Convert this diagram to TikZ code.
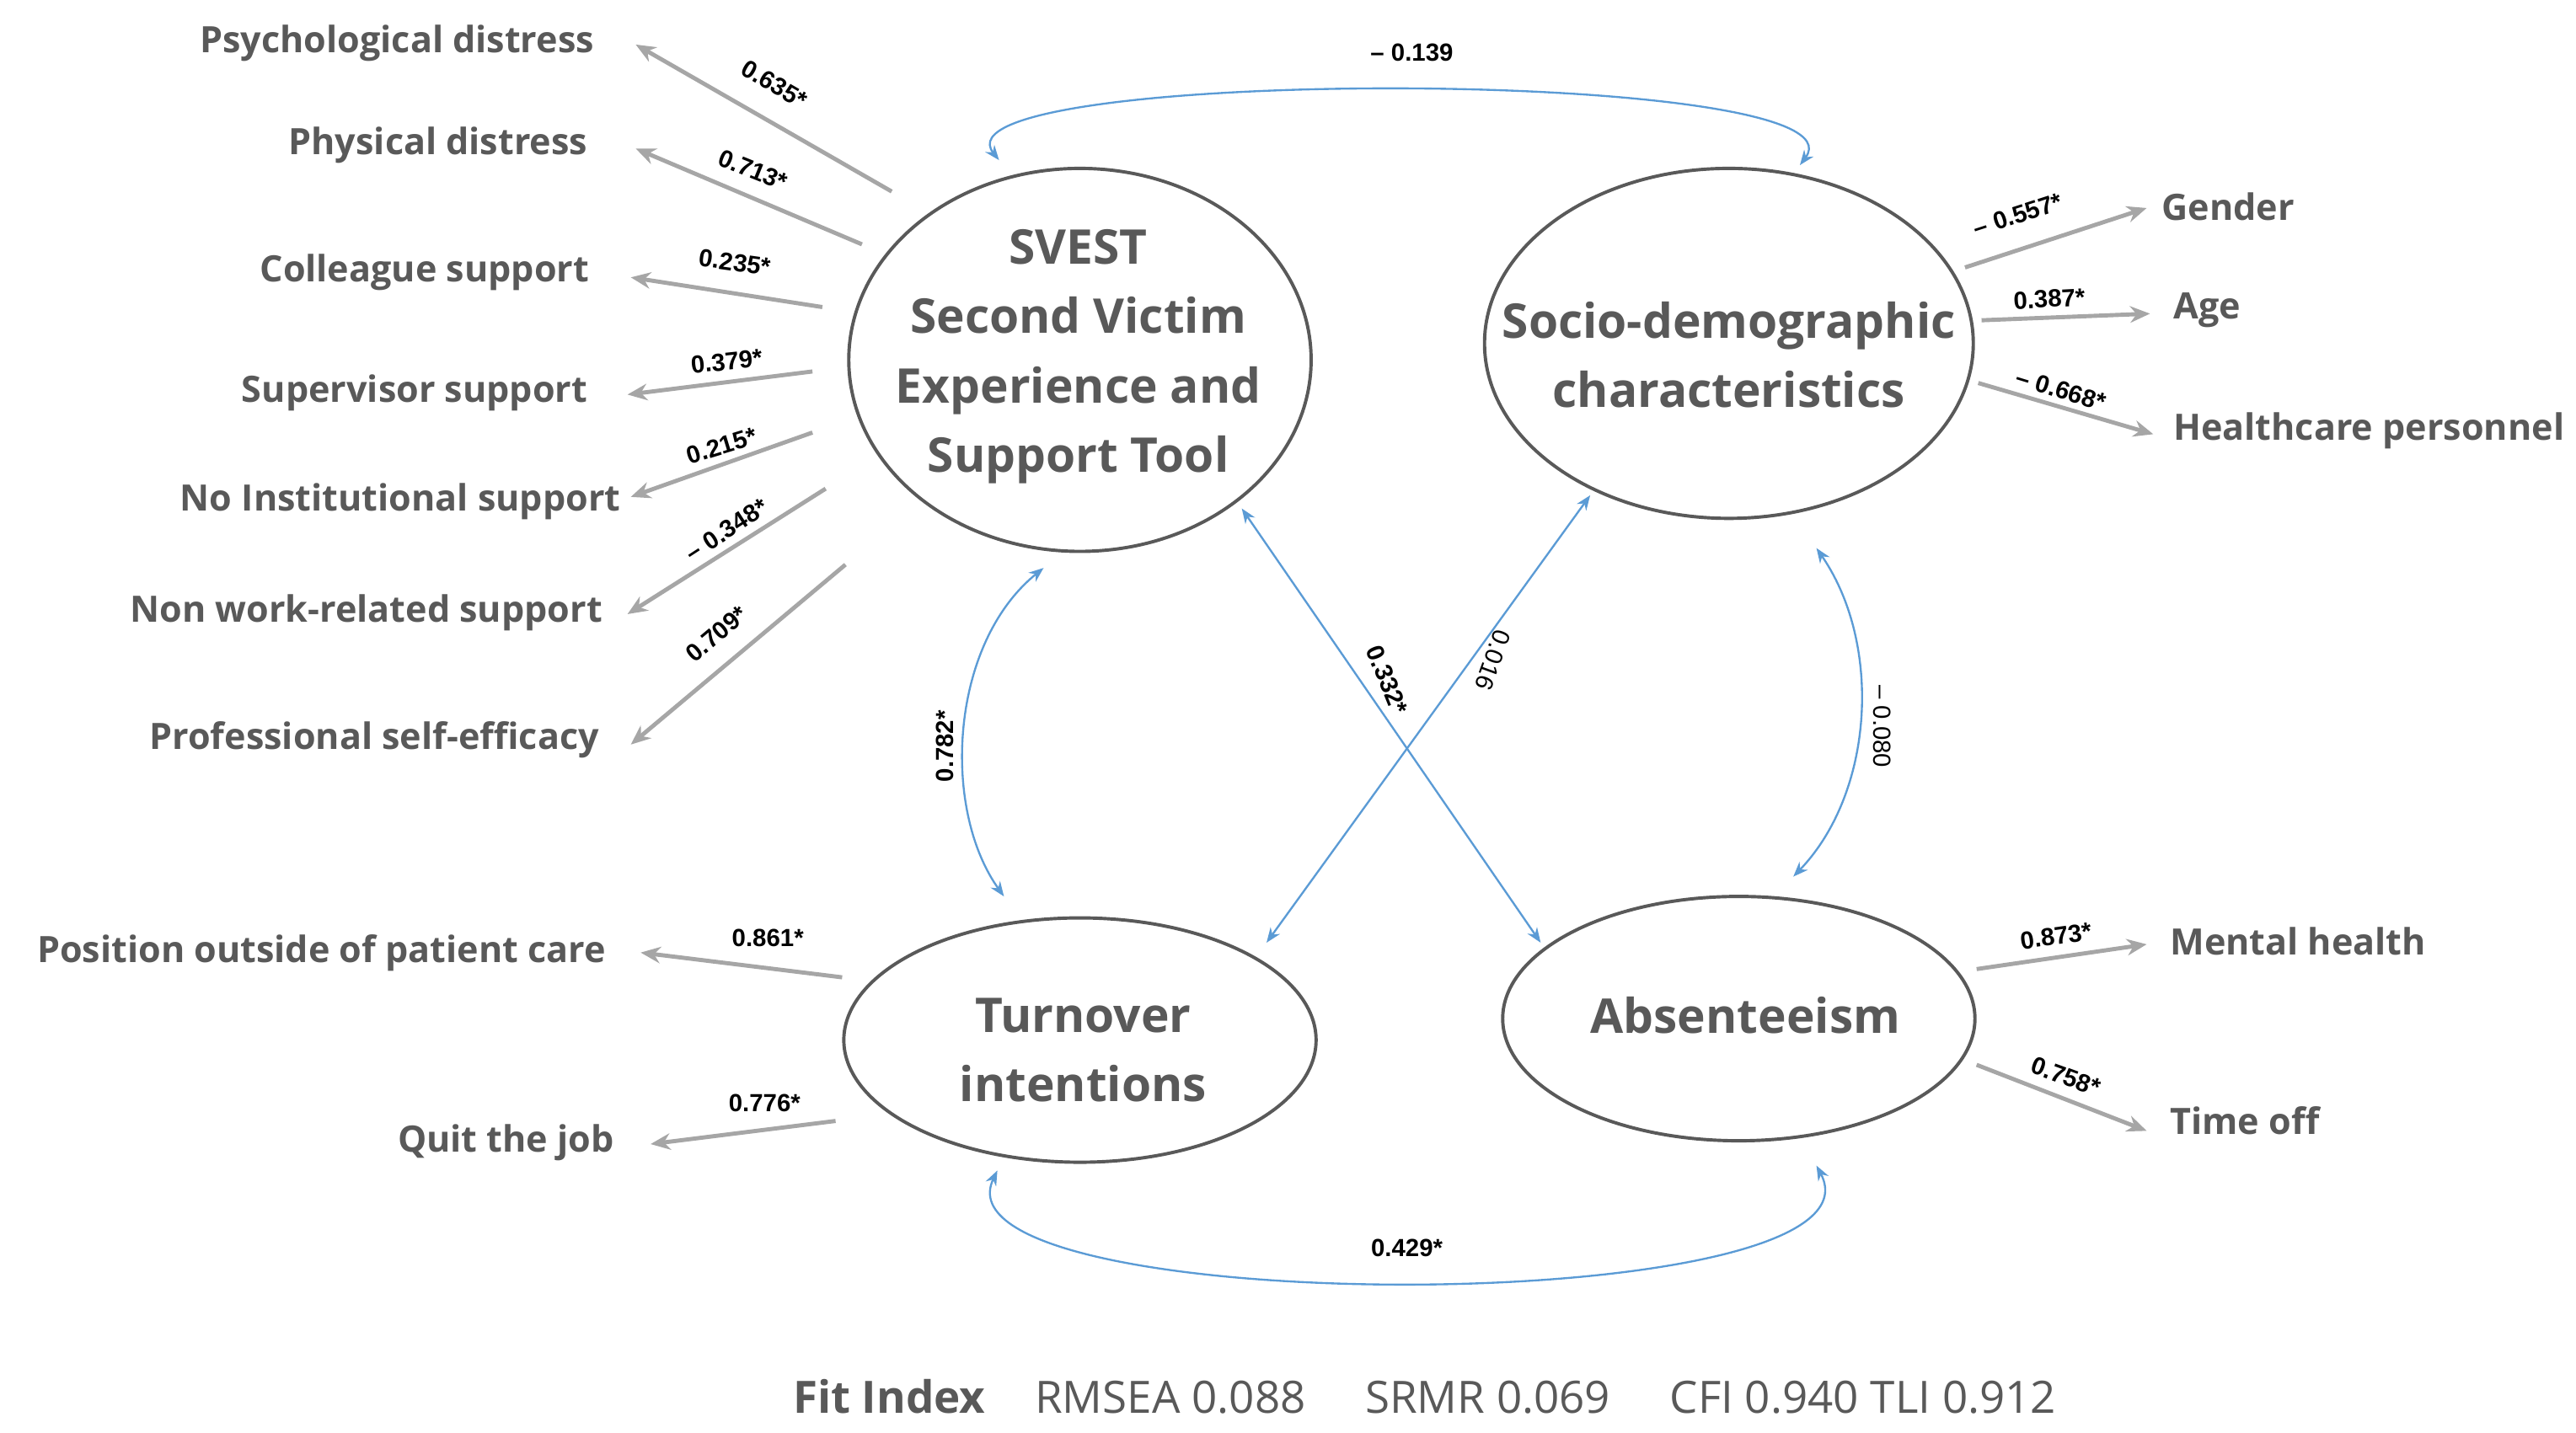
\documentclass[tikz,border=0pt]{standalone}
\usepackage{fontspec}
\setmainfont{Open Sans}
\newfontfamily\numf{Liberation Sans}
\usetikzlibrary{arrows.meta}
\definecolor{tg}{HTML}{595959}
\definecolor{ag}{HTML}{A6A6A6}
\definecolor{bl}{HTML}{5B9BD5}
\begin{document}
\begin{tikzpicture}[x=1pt,y=-1pt,
 ind/.style={text=tg,font=\fontsize{22}{26}\selectfont\bfseries,inner sep=0pt},
 ld/.style={draw=ag,line width=2.5pt,-{Stealth[length=12pt,width=10pt]}},
 cv/.style={draw=bl,line width=1.2pt,{Stealth[length=9pt,width=7pt]}-{Stealth[length=9pt,width=7pt]}},
 nb/.style={font=\numf\fontsize{15}{17}\selectfont\bfseries,inner sep=0pt},
 nr/.style={font=\numf\fontsize{15}{17}\selectfont,inner sep=0pt},
 lt/.style={text=tg,font=\fontsize{29}{42}\selectfont\bfseries,align=center}]
\useasboundingbox (0,0) rectangle (1560,868);
% latent ellipses
\draw[draw=tg,line width=2pt] (654,218) ellipse (140 and 116);
\draw[draw=tg,line width=2pt] (1047,208) ellipse (148 and 106);
\draw[draw=tg,line width=2pt] (654,630) ellipse (143 and 74);
\draw[draw=tg,line width=2pt] (1053,617) ellipse (143 and 74);
\node[lt] (sv) at (653,216) {SVEST\\Second Victim\\Experience and\\Support Tool};
\node[lt] (so) at (1047,215) {Socio-demographic\\characteristics};
\node[lt] (tu) at (656,636) {Turnover\\intentions};
\node[lt] (ab) at (1057,615) {Absenteeism};
% left indicators
\node[ind,anchor=east] (i1) at (360,26) {Psychological distress};
\node[ind,anchor=east] (i2) at (356,88) {Physical distress};
\node[ind,anchor=east] (i3) at (357,165) {Colleague support};
\node[ind,anchor=east] (i4) at (356,238) {Supervisor support};
\node[ind,anchor=east] (i5) at (376,304) {No Institutional support};
\node[ind,anchor=east] (i6) at (365,371) {Non work-related support};
\node[ind,anchor=east] (i7) at (363,448) {Professional self-efficacy};
\coordinate (s1) at (540,116); \coordinate (e1) at (385,27);
\coordinate (s2) at (522,148); \coordinate (e2) at (385,90);
\coordinate (s3) at (498,186); \coordinate (e3) at (382,168);
\coordinate (s4) at (492,225); \coordinate (e4) at (380,239);
\coordinate (s5) at (492,262); \coordinate (e5) at (382,301);
\coordinate (s6) at (500,296); \coordinate (e6) at (380,372);
\coordinate (s7) at (512,342); \coordinate (e7) at (382,451);
\foreach \i in {1,...,7} {\draw[ld] (s\i) -- (e\i);}
\node[nb,rotate=-30] (l1) at (469,51) {0.635*};
\node[nb,rotate=-22] (l2) at (456,103) {0.713*};
\node[nb,rotate=-8] (l3) at (445,159) {0.235*};
\node[nb,rotate=6] (l4) at (440,219) {0.379*};
\node[nb,rotate=17] (l5) at (437,270) {0.215*};
\node[nb,rotate=33] (l6) at (440,321) {– 0.348*};
\node[nb,rotate=40] (l7) at (434,384) {0.709*};
% right indicators
\node[ind,anchor=west] (g) at (1309,125) {Gender};
\node[ind,anchor=west] (a) at (1316,188) {Age};
\node[ind,anchor=west] (h) at (1316,261) {Healthcare personnel};
\node[ind,anchor=west] (m) at (1314,570) {Mental health};
\node[ind,anchor=west] (t) at (1314,679) {Time off};
\draw[ld] (1190,162) -- (1300,126);
\draw[ld] (1200,194) -- (1302,190);
\draw[ld] (1198,232) -- (1304,263);
\draw[ld] (1197,587) -- (1300,572);
\draw[ld] (1197,645) -- (1300,685);
\node[nb,rotate=18] at (1222,130) {– 0.557*};
\node[nb,rotate=3] at (1241,181) {0.387*};
\node[nb,rotate=-17] at (1248,236) {– 0.668*};
\node[nb,rotate=8] at (1245,567) {0.873*};
\node[nb,rotate=-20] at (1251,652) {0.758*};
% bottom-left indicators
\node[ind,anchor=east] (p) at (367,577) {Position outside of patient care};
\node[ind,anchor=east] (q) at (372,692) {Quit the job};
\draw[ld] (510,592) -- (388,577);
\draw[ld] (506,679) -- (394,693);
\node[nb] at (465,568) {0.861*};
\node[nb] at (463,668) {0.776*};
% covariances
\draw[cv] (605,97) .. controls (560,40) and (1135,40) .. (1090,100);
\node[nb] at (855,32) {– 0.139};
\draw[cv] (632,344) .. controls (575,390) and (570,490) .. (608,543);
\node[nb,rotate=90] at (572,452) {0.782*};
\draw[cv] (752,308) -- (933,571);
\node[nb,rotate=-68] at (840,412) {0.332*};
\draw[cv] (963,300) -- (767,571);
\node[nr,rotate=-110] at (904,400) {0.016};
\draw[cv] (1100,332) .. controls (1140,390) and (1135,480) .. (1086,531);
\node[nr,rotate=-90] at (1140,440) {– 0.080};
\draw[cv] (604,709) .. controls (560,800) and (1150,800) .. (1100,706);
\node[nb] at (852,756) {0.429*};
% fit index
\node[anchor=west,text=tg,inner sep=0pt,font=\fontsize{27}{30}\selectfont] (fit) at (480,846) {\textbf{Fit Index}\hspace{30pt}RMSEA 0.088\hspace{36pt}SRMR 0.069\hspace{36pt}CFI 0.940 TLI 0.912};
\end{tikzpicture}
\end{document}
